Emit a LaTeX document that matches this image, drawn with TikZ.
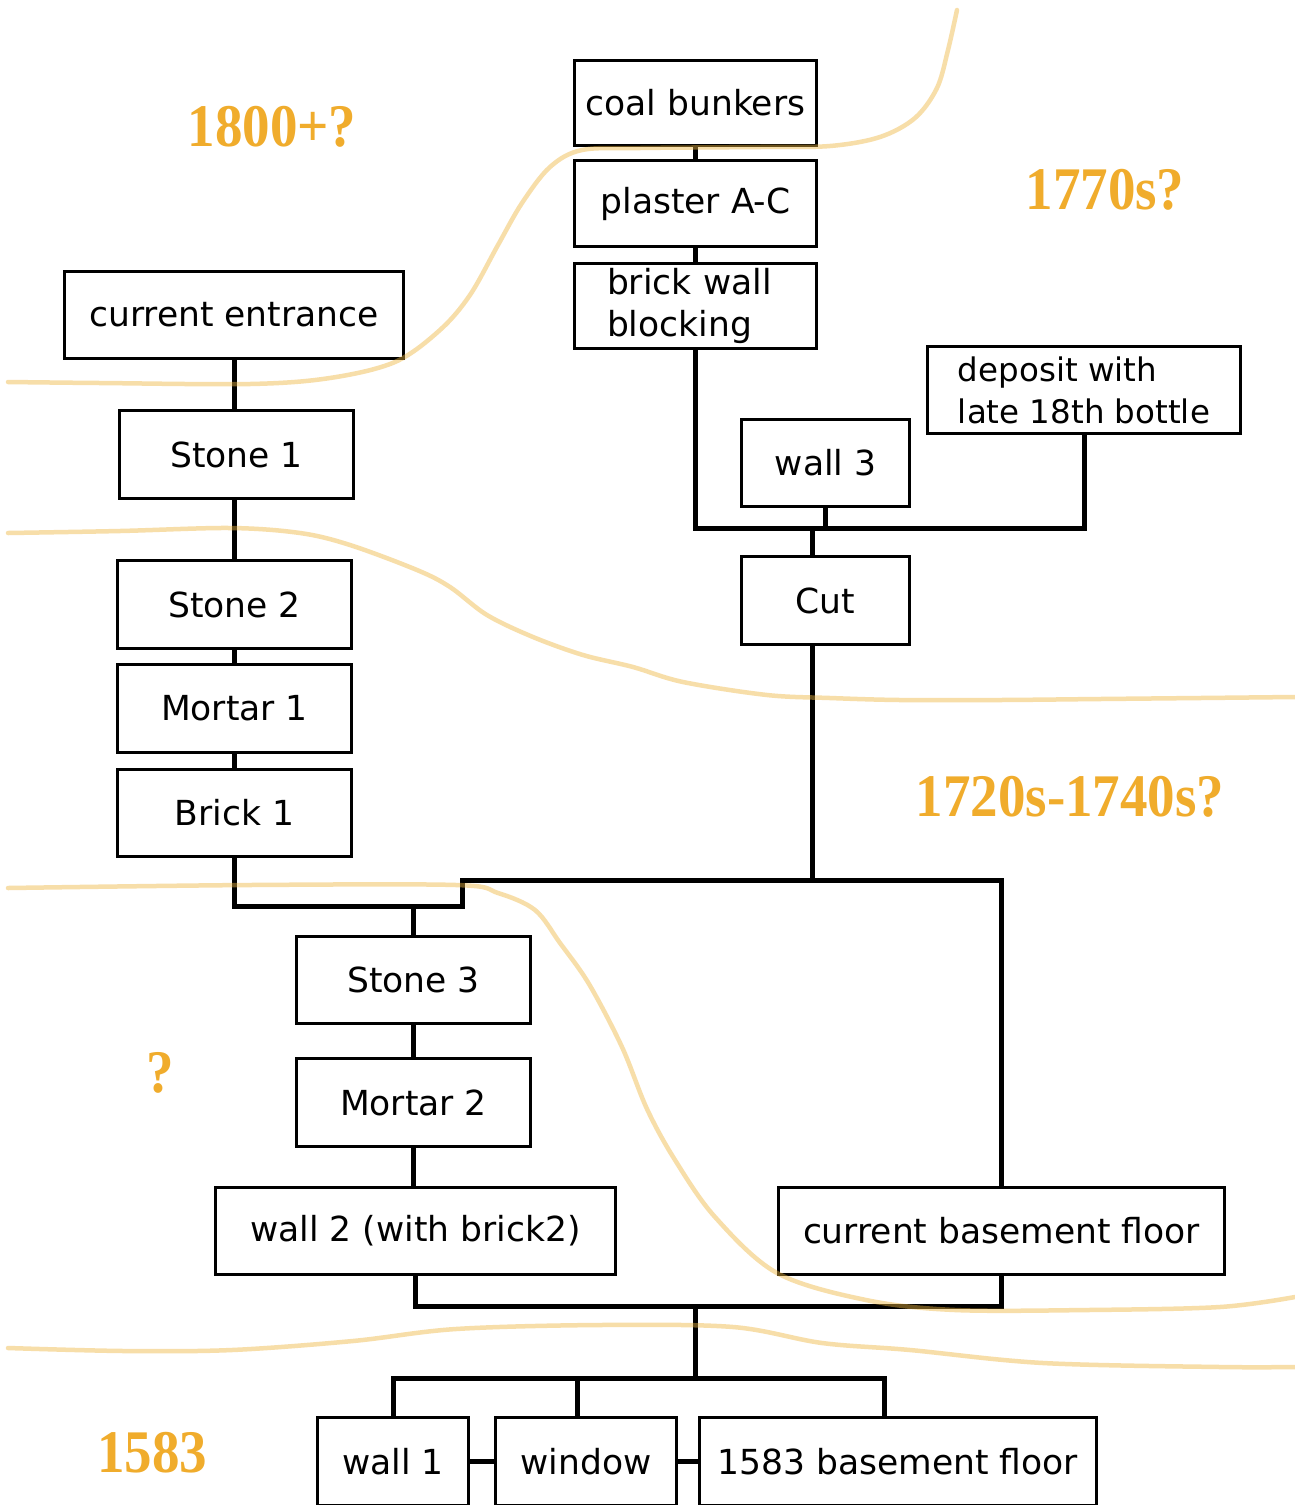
\documentclass[tikz,border=0pt]{standalone}
\usepackage{fontspec}
\setmainfont{DejaVu Sans}
\newfontfamily\labfont{Liberation Serif}
\definecolor{labelorange}{RGB}{240,172,44}
\definecolor{zoneline}{RGB}{239,182,66}
\newcommand{\tall}[1]{\scalebox{1}[1.1]{#1}}
\begin{document}
\begin{tikzpicture}[x=1pt,y=-1pt,
  box/.style={draw=black, line width=3pt, fill=white, inner sep=0pt,
    font=\fontsize{34.5}{42}\selectfont},
  conn/.style={line width=5pt, line join=miter},
  lab/.style={text=labelorange, inner sep=0pt,
    font=\labfont\bfseries\fontsize{55}{60}\selectfont},
  zone/.style={draw=zoneline, line width=4.5pt, opacity=0.45, line cap=round, line join=round}]
\useasboundingbox (0,0) rectangle (1295,1505);
\fill[white] (0,0) rectangle (1295,1505);
\clip (0,0) rectangle (1295,1505);

% ---- boxes ----
\node[box, minimum width=242pt, minimum height=85pt] (coal) at (695.5,103) {coal bunkers};
\node[box, minimum width=242pt, minimum height=86pt] (plaster) at (695.5,203.5) {plaster A-C};
\node[box, minimum width=242pt, minimum height=85pt, align=left, text width=177pt] (brick) at (695.5,306) {brick wall\\blocking};
\node[box, minimum width=339pt, minimum height=87pt] (entrance) at (234,315) {current entrance};
\node[box, minimum width=234pt, minimum height=88pt] (stone1) at (236.5,454.5) {Stone 1};
\node[box, minimum width=234pt, minimum height=88pt] (stone2) at (234.5,604.5) {Stone 2};
\node[box, minimum width=234pt, minimum height=88pt] (mortar1) at (234.5,708.5) {Mortar 1};
\node[box, minimum width=234pt, minimum height=87pt] (brick1) at (234.5,813) {Brick 1};
\node[box, minimum width=168pt, minimum height=87pt] (wall3) at (825.5,463) {wall 3};
\node[box, minimum width=313pt, minimum height=87pt, align=left,
      font=\fontsize{32.5}{42}\selectfont] (deposit) at (1084,390) {deposit with\\late 18th bottle};
\node[box, minimum width=168pt, minimum height=88pt] (cut) at (825.5,600.5) {Cut};
\node[box, minimum width=234pt, minimum height=87pt] (stone3) at (413.5,980) {Stone 3};
\node[box, minimum width=234pt, minimum height=88pt] (mortar2) at (413.5,1102.5) {Mortar 2};
\node[box, minimum width=400pt, minimum height=87pt] (wall2) at (415.5,1231) {wall 2 (with brick2)};
\node[box, minimum width=446pt, minimum height=87pt] (cbf) at (1001.5,1231) {current basement floor};
\node[box, minimum width=151pt, minimum height=88pt] (wall1) at (393,1461.5) {wall 1};
\node[box, minimum width=181pt, minimum height=88pt] (window) at (586,1461.5) {window};
\node[box, minimum width=397pt, minimum height=88pt] (bf1583) at (898,1461.5) {1583 basement floor};

% ---- junction points ----
\coordinate (jTop) at (812,528);
\coordinate (kA) at (462,906);
\coordinate (kB) at (462,880);
\coordinate (kD) at (695,1306);
\coordinate (kE) at (695,1378);

% ---- connectors ----
\draw[conn] (coal.south) -- (plaster.north);
\draw[conn] (plaster.south) -- (brick.north);
\draw[conn] (brick.south) |- (jTop) -| (deposit.south);
\draw[conn] (wall3.south) -- (wall3.south |- jTop);
\draw[conn] (jTop) -- (jTop |- cut.north);
\draw[conn] (cut.south -| jTop) -- (jTop |- kB);

\draw[conn] (entrance.south) -- (entrance.south |- stone1.north);
\draw[conn] (entrance.south |- stone1.south) -- (entrance.south |- stone2.north);
\draw[conn] (entrance.south |- stone2.south) -- (entrance.south |- mortar1.north);
\draw[conn] (entrance.south |- mortar1.south) -- (entrance.south |- brick1.north);
\draw[conn] (brick1.south) |- (kA) -- (kB) -| (cbf.north);
\draw[conn] (stone3.north) -- (stone3.north |- kA);
\draw[conn] (stone3.south) -- (mortar2.north);
\draw[conn] (mortar2.south) -- (mortar2.south |- wall2.north);

\draw[conn] (wall2.south) |- (kD) -| (cbf.south);
\draw[conn] (kD) -- (kE);
\draw[conn] (wall1.north) |- ([xshift=-14pt]bf1583.north |- kE) -- ([xshift=-14pt]bf1583.north);
\draw[conn] ([xshift=-9pt]window.north) -- ([xshift=-9pt]window.north |- kE);
\draw[conn] (wall1.east) -- (window.west);
\draw[conn] (window.east) -- (bf1583.west);

% ---- period labels ----
\node[lab] (l1800) at (272,127) {\tall{1800+?}};
\node[lab] (l1770) at (1105,190) {\tall{1770s?}};
\node[lab] (l1720) at (1070,797) {\tall{1720s-1740s?}};
\node[lab] (lq) at (160,1073) {\tall{?}};
\node[lab] (l1583) at (152,1453) {\tall{1583}};

% ---- phase boundaries ----
\draw[zone] plot[smooth, tension=0.55] coordinates {(8,382) (100,383) (250,384) (330,378) (395,362) (440,330) (470,295) (498,245) (522,203) (550,167) (582,150) (640,148) (760,147) (830,146) (880,137) (915,118) (937,88) (948,50) (957,10)};
\draw[zone] plot[smooth, tension=0.55] coordinates {(8,533) (120,531) (230,528) (300,533) (350,545) (417,570) (450,587) (487,615) (533,637) (583,655) (633,667) (683,682) (767,695) (830,698) (900,700) (1000,700) (1100,699) (1200,698) (1295,697)};
\draw[zone] plot[smooth, tension=0.55] coordinates {(8,888) (250,885) (456,885) (498,893) (535,910) (560,943) (589,984) (622,1047) (647,1109) (675,1160) (715,1217) (777,1273) (866,1300) (955,1310) (1088,1310) (1220,1307) (1295,1297)};
\draw[zone] plot[smooth, tension=0.55] coordinates {(8,1348) (124,1351) (232,1350) (353,1341) (456,1329) (600,1325) (733,1327) (822,1343) (910,1350) (1043,1363) (1220,1367) (1295,1367)};
\end{tikzpicture}
\end{document}
